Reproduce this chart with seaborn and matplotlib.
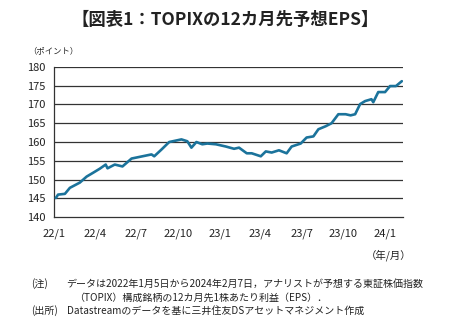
import matplotlib
matplotlib.use("Agg")
import matplotlib.pyplot as plt
import seaborn as sns
import pandas as pd

dates = ["2022-01-05", "2022-01-10", "2022-01-25", "2022-02-05", "2022-02-27", "2022-03-14",
         "2022-03-28", "2022-04-12", "2022-04-25", "2022-04-29", "2022-05-15", "2022-06-01",
         "2022-06-21", "2022-07-15", "2022-08-04", "2022-08-10", "2022-08-26", "2022-09-12",
         "2022-10-09", "2022-10-22", "2022-10-31", "2022-11-11", "2022-11-24", "2022-12-05",
         "2022-12-24", "2023-01-15", "2023-02-02", "2023-02-13", "2023-03-02", "2023-03-13",
         "2023-04-02", "2023-04-13", "2023-04-26", "2023-05-12", "2023-05-29", "2023-06-09",
         "2023-06-29", "2023-07-12", "2023-07-27", "2023-08-07", "2023-08-23", "2023-09-05",
         "2023-09-20", "2023-10-06", "2023-10-17", "2023-10-27", "2023-11-07", "2023-11-18",
         "2023-12-02", "2023-12-06", "2023-12-17", "2024-01-01", "2024-01-12", "2024-01-25",
         "2024-02-07"]
eps = [145.1, 146.0, 146.2, 147.8, 149.2, 150.8,
       151.8, 152.9, 154.0, 153.0, 154.0, 153.5,
       155.6, 156.2, 156.7, 156.2, 158.0, 160.0,
       160.7, 160.2, 158.5, 160.0, 159.4, 159.6,
       159.4, 158.8, 158.2, 158.5, 157.0, 157.0,
       156.2, 157.5, 157.2, 157.8, 157.0, 158.8,
       159.6, 161.2, 161.5, 163.4, 164.2, 165.0,
       167.4, 167.4, 167.1, 167.4, 170.1, 170.9,
       171.4, 170.6, 173.3, 173.3, 174.9, 174.9,
       176.2]
x_ticks = ["2022-01-01", "2022-04-01", "2022-07-01", "2022-10-01", "2023-01-01",
           "2023-04-01", "2023-07-01", "2023-10-01", "2024-01-01"]
x_labels = ["22/1", "22/4", "22/7", "22/10", "23/1", "23/4", "23/7", "23/10", "24/1"]
y_ticks = [140, 145, 150, 155, 160, 165, 170, 175, 180]

sns.set_style("white")
plt.rcParams['font.family'] = ['Noto Sans CJK JP', 'DejaVu Sans']

df = pd.DataFrame({"date": pd.to_datetime(dates), "eps": eps})

fig = plt.figure(figsize=(4.5, 3.28), dpi=100)
ax = fig.add_axes([0.12, 0.338, 0.776, 0.458])

for v in y_ticks[1:]:
    ax.axhline(v, color="#333333", lw=0.9, zorder=1)

sns.lineplot(data=df, x="date", y="eps", ax=ax, color="#1b739b", lw=1.9, zorder=3)

ax.set_xlim(pd.Timestamp("2022-01-03"), pd.Timestamp("2024-02-10"))
ax.set_ylim(140, 180)
ax.set_yticks(y_ticks)
ax.set_yticklabels([str(v) for v in y_ticks], fontsize=8, color="#222222")
ax.set_xticks(pd.to_datetime(x_ticks))
ax.set_xticklabels(x_labels, fontsize=8, color="#222222")
ax.tick_params(axis="x", direction="in", length=3, width=0.8, color="#555555", pad=8)
ax.tick_params(axis="y", length=0, pad=6)
ax.set_xlabel("")
ax.set_ylabel("")
for s in ["top", "right"]:
    ax.spines[s].set_visible(False)
for s in ["left", "bottom"]:
    ax.spines[s].set_color("#333333")
    ax.spines[s].set_linewidth(0.9)

fig.text(0.5, 0.94, "【図表1：TOPIXの12カ月先予想EPS】", ha="center", va="center",
         fontsize=12.5, fontweight="bold", color="#222222")
fig.text(0.063, 0.845, "（ポイント）", ha="left", va="center", fontsize=6, color="#222222")
fig.text(0.915, 0.222, "（年/月）", ha="right", va="center", fontsize=7.5, color="#222222")
fs = 7.2
fig.text(0.07, 0.135, "(注)", ha="left", va="center", fontsize=fs, color="#222222")
fig.text(0.148, 0.135, "データは2022年1月5日から2024年2月7日，アナリストが予想する東証株価指数",
         ha="left", va="center", fontsize=fs, color="#222222")
fig.text(0.165, 0.093, "（TOPIX）構成銘柄の12カ月先1株あたり利益（EPS）．",
         ha="left", va="center", fontsize=fs, color="#222222")
fig.text(0.07, 0.053, "(出所)", ha="left", va="center", fontsize=fs, color="#222222")
fig.text(0.148, 0.053, "Datastreamのデータを基に三井住友DSアセットマネジメント作成",
         ha="left", va="center", fontsize=fs, color="#222222")

fig.savefig("out.png", dpi=100, facecolor="white")
